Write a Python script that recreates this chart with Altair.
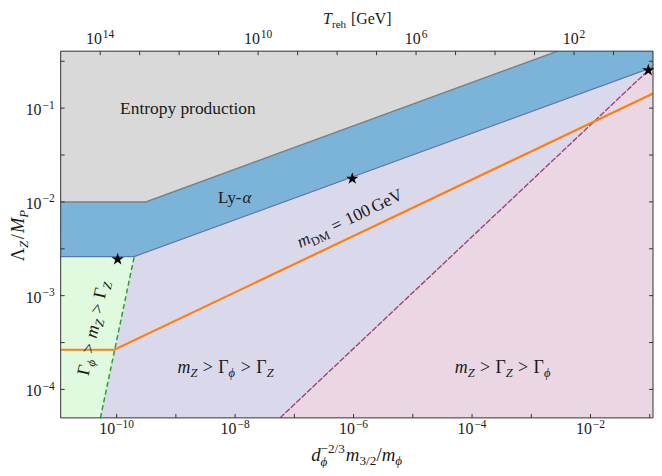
import altair as alt
import pandas as pd

FONT = "Liberation Serif"
INK = "#1a1a1a"
W, H = 596, 369

# ---------------- values ----------------
X_DOMAIN = [1.135e-11, 1.135e-1]
Y_DOMAIN = [4.97e-5, 0.405]
T_DOMAIN = [1.0, 1.0e15]          # T_reh, drawn reversed on the top axis

# boundary lines (x, y)
entropy_x = [1.135e-11, 3.11e-10, 2.78e-3]
entropy_y = [1.0e-2, 1.0e-2, 0.405]
lya_x = [1.135e-11, 1.98e-10, 1.135e-1]
lya_y = [2.61e-3, 2.61e-3, 0.274]
green_x = [5.32e-11, 1.98e-10]
green_y = [4.97e-5, 2.61e-3]
purple_x = [5.73e-8, 0.0946]
purple_y = [4.97e-5, 0.253]
orange_x = [1.135e-11, 9.14e-11, 1.135e-1]
orange_y = [2.65e-4, 2.65e-4, 0.143]
star_x = [1.04e-10, 9.5e-7, 0.0946]
star_y = [2.45e-3, 0.0177, 0.253]

# ticks and tick labels
x_ticks = [1e-10, 1e-9, 1e-8, 1e-7, 1e-6, 1e-5, 1e-4, 1e-3, 1e-2, 1e-1]
x_label_vals = [1e-10, 1e-8, 1e-6, 1e-4, 1e-2]
x_label_exps = ["−10", "−8", "−6", "−4", "−2"]
y_ticks = [0.316, 0.1, 0.0316, 0.01, 3.16e-3, 1e-3, 3.16e-4, 1e-4]
y_label_vals = [1e-1, 1e-2, 1e-3, 1e-4]
y_label_exps = ["−1", "−2", "−3", "−4"]
t_ticks = [1e14, 1e13, 1e12, 1e11, 1e10, 1e9, 1e8, 1e7, 1e6, 1e5, 1e4, 1e3, 1e2, 1e1]
t_label_vals = [1e14, 1e10, 1e6, 1e2]
t_label_exps = ["14", "10", "6", "2"]

# colours
C_PINK, C_LAV, C_GREEN, C_BLUE, C_GRAY = "#ead7e3", "#dad9eb", "#dffadf", "#7bb4d8", "#d9d9d9"
L_GRAY, L_BLUE, L_GREEN, L_PURPLE, L_ORANGE = "#7f7f7f", "#5679b0", "#1fa81f", "#a0407c", "#ff7f0e"

xscale = alt.Scale(type="log", domain=X_DOMAIN, nice=False)
yscale = alt.Scale(type="log", domain=Y_DOMAIN, nice=False)
tscale = alt.Scale(type="log", domain=T_DOMAIN, nice=False, reverse=True)


def X(f):
    return alt.X(f, type="quantitative", scale=xscale, axis=None)


def Y(f):
    return alt.Y(f, type="quantitative", scale=yscale, axis=None, stack=None)


# ---------------- regions ----------------
def region(xs, los, color):
    df = pd.DataFrame({"x": xs, "lo": los, "hi": [Y_DOMAIN[1]] * len(xs)})
    return alt.Chart(df).mark_area(color=color, opacity=1, clip=True).encode(
        x=X("x"), y=Y("lo"), y2="hi")


layers = [
    region([X_DOMAIN[0], X_DOMAIN[1]], [Y_DOMAIN[0], Y_DOMAIN[0]], C_PINK),
    region([X_DOMAIN[0]] + purple_x, [Y_DOMAIN[0]] + purple_y, C_LAV),
    region([X_DOMAIN[0]] + green_x, [Y_DOMAIN[0]] + green_y, C_GREEN),
    region(lya_x, lya_y, C_BLUE),
    region(entropy_x, entropy_y, C_GRAY),
]


def line(xs, ys, color, width, dash=None):
    kw = dict(color=color, strokeWidth=width, clip=True)
    if dash:
        kw["strokeDash"] = dash
    return alt.Chart(pd.DataFrame({"x": xs, "y": ys})).mark_line(**kw).encode(x=X("x"), y=Y("y"))


layers += [
    line(entropy_x, entropy_y, L_GRAY, 1.5),
    line(lya_x, lya_y, L_BLUE, 1.2),
    line(green_x, green_y, L_GREEN, 1.5, [5, 3]),
    line(purple_x, purple_y, L_PURPLE, 1.4, [6, 1.5]),
    line(orange_x, orange_y, L_ORANGE, 2.2),
]

STAR = ("M0,-1L0.2245,-0.309L0.951,-0.309L0.3633,0.118L0.5878,0.809L0,0.382"
        "L-0.5878,0.809L-0.3633,0.118L-0.951,-0.309L-0.2245,-0.309Z")
layers.append(
    alt.Chart(pd.DataFrame({"x": star_x, "y": star_y})).mark_point(
        shape=STAR, filled=True, color="black", opacity=1, size=170).encode(x=X("x"), y=Y("y")))

# ---------------- composite (math-like) text ----------------
ROMAN_W = {" ": .25, "-": .333, "=": .564, ">": .564, "/": .278, "[": .333, "]": .333,
           "−": .564, "G": .722, "e": .444, "V": .722, "D": .722, "M": .889, "L": .611,
           "y": .5, "r": .333, "h": .5, "Γ": .578, "Λ": .722, "E": .611, "n": .5, "t": .278,
           "o": .5, "p": .5, "d": .5, "u": .5, "c": .444, "i": .278}
ITAL_W = {"m": .722, "d": .5, "Z": .556, "M": .833, "P": .611, "T": .556, "ϕ": .55, "α": .52}
SUB, SUP = 0.22, -0.40


def twidth(s, it):
    tab = ITAL_W if it else ROMAN_W
    return sum(tab.get(c, .5) for c in s)


def R(t, rel=1.0, dy=0.0, adv=True):
    return {"t": t, "it": False, "rel": rel, "dy": dy, "adv": adv}


def I(t, rel=1.0, dy=0.0, adv=True):
    return {"t": t, "it": True, "rel": rel, "dy": dy, "adv": adv}


def G(em):
    return {"gap": em}


def composite(base, pieces, size, angle=0, align="center", base_dx=0.0, base_dy=0.0):
    pos, out = 0.0, []
    placed = []
    for p in pieces:
        if "gap" in p:
            pos += p["gap"] * size
            continue
        fs = size * p["rel"]
        placed.append((p, pos, fs))
        if p["adv"]:
            pos += twidth(p["t"], p["it"]) * fs
    start = {"center": -pos / 2, "left": 0.0, "right": -pos}[align] + base_dx
    for p, off, fs in placed:
        kw = dict(text=p["t"], font=FONT, fontSize=fs, align="left", baseline="alphabetic",
                  dx=start + off, dy=base_dy + p["dy"] * size, color=INK,
                  fontStyle="italic" if p["it"] else "normal")
        if angle:
            kw["angle"] = angle
        out.append(base.mark_text(**kw))
    return out


def at_data(x, y):
    return alt.Chart(pd.DataFrame({"x": [x], "y": [y]})).encode(x=X("x"), y=Y("y"))


def at_px(px, py):
    return alt.Chart(pd.DataFrame({"k": [0]})).encode(x=alt.value(px), y=alt.value(py))


GAP = 0.3
layers += composite(at_data(1.6e-9, 0.087), [R("Entropy production")], 17.5)
layers += composite(at_data(9.8e-9, 0.0098), [R("Ly-"), I("α")], 17)
layers += composite(at_data(6.9e-9, 1.49e-4),
                    [I("m"), I("Z", .7, SUB), G(GAP), R(">"), G(GAP), R("Γ"), I("ϕ", .7, SUB),
                     G(GAP), R(">"), G(GAP), R("Γ"), I("Z", .7, SUB)], 18)
layers += composite(at_data(3.3e-4, 1.49e-4),
                    [I("m"), I("Z", .7, SUB), G(GAP), R(">"), G(GAP), R("Γ"), I("Z", .7, SUB),
                     G(GAP), R(">"), G(GAP), R("Γ"), I("ϕ", .7, SUB)], 18)
layers += composite(at_data(4.93e-11, 4.37e-4),
                    [R("Γ"), I("ϕ", .7, SUB), G(GAP), R(">"), G(GAP), I("m"), I("Z", .7, SUB),
                     G(GAP), R(">"), G(GAP), R("Γ"), I("Z", .7, SUB)], 18, angle=282)
layers += composite(at_data(9.5e-7, 5.9e-3),
                    [I("m"), R("DM", .7, SUB), G(.32), R("="), G(.32), R("100"), G(.17), R("GeV")],
                    17.5, angle=334.5)

# axis titles
layers += composite(at_px(-37, 185.5),
                    [R("Λ"), I("Z", .7, SUB), G(.08), R("/"), G(.06), I("M"), I("P", .7, SUB)],
                    18.5, angle=270)
layers += composite(at_px(298, 412),
                    [I("d"), I("ϕ", .7, 0.30, adv=False), R("−2/3", .7, SUP), G(.05), I("m"),
                     R("3/2", .7, SUB), R("/"), I("m"), I("ϕ", .7, SUB)], 19)

# ---------------- inward ticks and tick labels ----------------
TICK = "#333333"
xt = alt.Chart(pd.DataFrame({"v": x_ticks}))
layers.append(xt.mark_rule(color=TICK, strokeWidth=1).encode(x=X("v"), y=alt.value(H), y2=alt.value(H - 4)))
yt = alt.Chart(pd.DataFrame({"v": y_ticks}))
layers.append(yt.mark_rule(color=TICK, strokeWidth=1).encode(y=Y("v"), x=alt.value(0), x2=alt.value(4)))
layers.append(yt.mark_rule(color=TICK, strokeWidth=1).encode(y=Y("v"), x=alt.value(W), x2=alt.value(W - 4)))

LBL = 16
for v, e in zip(x_label_vals, x_label_exps):
    base = alt.Chart(pd.DataFrame({"v": [v]})).encode(x=X("v"), y=alt.value(H + 16.7))
    layers += composite(base, [R("10"), G(.06), R(e, .72, SUP)], LBL)
for v, e in zip(y_label_vals, y_label_exps):
    base = alt.Chart(pd.DataFrame({"v": [v]})).encode(y=Y("v"), x=alt.value(0))
    layers += composite(base, [R("10"), G(.06), R(e, .72, SUP)], LBL, align="right",
                        base_dx=-6, base_dy=7)

# frame
layers.append(alt.Chart(pd.DataFrame({"k": [0]})).mark_rect(
    fillOpacity=0, stroke="#333333", strokeWidth=1).encode(
    x=alt.value(0), x2=alt.value(W), y=alt.value(0), y2=alt.value(H)))

main = alt.layer(*layers)

# ---------------- top axis: reheating temperature ----------------
def TX(f):
    return alt.X(f, type="quantitative", scale=tscale, axis=None)


top_layers = [alt.Chart(pd.DataFrame({"v": t_ticks})).mark_rule(color=TICK, strokeWidth=1).encode(
    x=TX("v"), y=alt.value(0), y2=alt.value(4))]
for v, e in zip(t_label_vals, t_label_exps):
    base = alt.Chart(pd.DataFrame({"v": [v]})).encode(x=TX("v"), y=alt.value(-6.7))
    top_layers += composite(base, [R("10"), G(.06), R(e, .72, SUP)], LBL)
top_layers += composite(at_px(298.5, -27),
                        [I("T"), R("reh", .7, SUB), G(.3), R("[GeV]")], 16)
top = alt.layer(*top_layers)

chart = alt.layer(main, top).resolve_scale(x="independent").properties(
    width=W, height=H,
    padding={"left": 53, "top": 42, "right": 1, "bottom": 49},
    autosize=alt.AutoSizeParams(type="none"),
).configure_view(stroke=None)

chart.save("out.html", embed_options={"renderer": "svg", "actions": False})
